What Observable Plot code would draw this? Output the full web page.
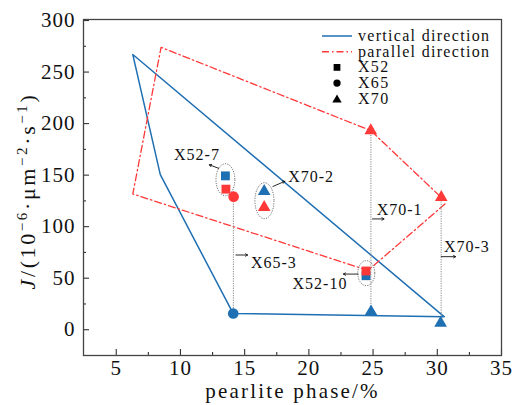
<!DOCTYPE html>
<html>
<head>
<meta charset="utf-8">
<script src="https://cdn.jsdelivr.net/npm/d3@7"></script>
<script src="https://cdn.jsdelivr.net/npm/@observablehq/plot@0.6"></script>
<style>
  body { margin: 0; background: #fff; }
  #wrap { position: relative; width: 515px; height: 405px; }
</style>
</head>
<body>
<div id="wrap"></div>
<script>
// ---- data ----
const xTicks = [5, 10, 15, 20, 25, 30, 35];
const xMinorTicks = [7.5, 12.5, 17.5, 22.5, 27.5, 32.5];
const yTicks = [0, 50, 100, 150, 200, 250, 300];
const yMinorTicks = [25, 75, 125, 175, 225, 275];
const xLabel = "pearlite phase/%";

// vertical direction envelope (blue, solid)
const vertX = [6.29, 8.43, 14.1, 30.55, 6.29];
const vertY = [267, 150.5, 15.8, 12.5, 267];
// parallel direction envelope (red, dash-dot)
const paraX = [30.6, 24.6, 6.29, 8.49, 24.82, 30.31];
const paraY = [122, 57.5, 131.7, 274, 193.2, 128.4];

// sample points
const ptGrade = ["X52", "X52", "X52", "X52", "X65", "X65", "X70", "X70", "X70", "X70", "X70", "X70"];
const ptDir   = ["vertical", "vertical", "parallel", "parallel", "vertical", "parallel", "vertical", "parallel", "vertical", "parallel", "vertical", "parallel"];
const ptX     = [13.5, 24.45, 13.54, 24.45, 14.11, 14.14, 16.52, 16.52, 24.84, 24.82, 30.26, 30.31];
const ptY     = [149.3, 52.4, 136.4, 57, 15.8, 129.1, 134.3, 118.7, 17.5, 193.2, 6.4, 128.4];

// dotted guide lines
const guideX  = [14.12, 24.83, 30.3];
const guideY1 = [15.8, 17.5, 6.4];
const guideY2 = [129.1, 193.2, 128.4];

// ellipses around sample groups
const ellX = [13.5, 16.54, 24.47];
const ellY = [145.6, 125.2, 54.9];

// annotation labels and arrows
const annText = ["X52-7", "X70-2", "X70-1", "X70-3", "X65-3", "X52-10"];
const annX    = [9.5, 18.39, 25.28, 30.52, 15.49, 18.73];
const annY    = [170, 148.5, 116, 80.6, 65.3, 44.4];
const arrX1   = [12.98, 17.2, 24.95, 30.31, 14.32, 23.83];
const arrY1   = [156.6, 139, 107.5, 70.9, 72.5, 54];
const arrX2   = [12.25, 18.13, 25.85, 31.43, 15.23, 22.69];
const arrY2   = [160, 144, 107.5, 70.9, 72.5, 54];

// ---- styles ----
const BLUE = "#1f6fb3";
const RED = "#ff3838";
const dirColor = {vertical: BLUE, parallel: RED};
const FONT = "Liberation Serif";

const points = ptX.map((x, i) => ({x, y: ptY[i], grade: ptGrade[i], dir: ptDir[i]}));
const vertLine = vertX.map((x, i) => ({x, y: vertY[i]}));
const paraLine = paraX.map((x, i) => ({x, y: paraY[i]}));
const guides = guideX.map((x, i) => ({x, y1: guideY1[i], y2: guideY2[i]}));
const ells = ellX.map((x, i) => ({x, y: ellY[i]}));
const anns = annText.map((t, i) => ({t, x: annX[i], y: annY[i]}));
const arrows = arrX1.map((x1, i) => ({x1, y1: arrY1[i], x2: arrX2[i], y2: arrY2[i]}));

function ellipseSymbol(ratio) {
  return {
    draw(ctx, size) {
      const ry = Math.sqrt(size / Math.PI), rx = ry * ratio, k = 0.5523;
      ctx.moveTo(rx, 0);
      ctx.bezierCurveTo(rx, k * ry, k * rx, ry, 0, ry);
      ctx.bezierCurveTo(-k * rx, ry, -rx, k * ry, -rx, 0);
      ctx.bezierCurveTo(-rx, -k * ry, -k * rx, -ry, 0, -ry);
      ctx.bezierCurveTo(k * rx, -ry, rx, -k * ry, rx, 0);
      ctx.closePath();
    }
  };
}

const W = 515, H = 405, mL = 83, mR = 14, mT = 19, mB = 50;
const innerW = W - mL - mR, innerH = H - mT - mB;

const chart = Plot.plot({
  width: W, height: H,
  marginLeft: mL, marginRight: mR, marginTop: mT, marginBottom: mB,
  x: {domain: [2.45, 35], axis: null},
  y: {domain: [-25, 301], axis: null},
  color: {type: "identity"},
  style: {background: "white", color: "#111", overflow: "visible"},
  marks: [
    Plot.line(vertLine, {x: "x", y: "y", stroke: BLUE, strokeWidth: 1.5}),
    Plot.line(paraLine, {x: "x", y: "y", stroke: RED, strokeWidth: 1.3, strokeDasharray: "7,3,1.5,3"}),
    Plot.ruleX(guides, {x: "x", y1: "y1", y2: "y2", stroke: "#888", strokeWidth: 1, strokeDasharray: "1.2,1.2"}),
    Plot.dot([ells[0]], {x: "x", y: "y", r: 16, symbol: ellipseSymbol(0.59), stroke: "#777", strokeWidth: 1, strokeDasharray: "1.2,1.2", fill: "none"}),
    Plot.dot([ells[1]], {x: "x", y: "y", r: 18, symbol: ellipseSymbol(0.53), stroke: "#777", strokeWidth: 1, strokeDasharray: "1.2,1.2", fill: "none"}),
    Plot.dot([ells[2]], {x: "x", y: "y", r: 12.5, symbol: ellipseSymbol(0.68), stroke: "#777", strokeWidth: 1, strokeDasharray: "1.2,1.2", fill: "none"}),
    Plot.dot(points.filter(d => d.grade === "X52"), {x: "x", y: "y", symbol: "square", r: 5, fill: d => dirColor[d.dir]}),
    Plot.dot(points.filter(d => d.grade === "X65"), {x: "x", y: "y", symbol: "circle", r: 5.3, fill: d => dirColor[d.dir]}),
    Plot.dot(points.filter(d => d.grade === "X70"), {x: "x", y: "y", symbol: "triangle", r: 4.7, fill: d => dirColor[d.dir]}),
    Plot.arrow(arrows, {x1: "x1", y1: "y1", x2: "x2", y2: "y2", stroke: "#111", strokeWidth: 0.9, headLength: 4, headAngle: 60}),
    Plot.text(anns, {x: "x", y: "y", text: "t", textAnchor: "start", fontSize: 16, fontFamily: FONT, fill: "#111"}),
    // ticks (inward)
    Plot.tickX(xTicks, {x: d => d, insetTop: innerH - 6, stroke: "#333", strokeWidth: 1.1}),
    Plot.tickX(xMinorTicks, {x: d => d, insetTop: innerH - 3, stroke: "#333", strokeWidth: 1.1}),
    Plot.tickY(yTicks, {y: d => d, insetRight: innerW - 6, stroke: "#333", strokeWidth: 1.1}),
    Plot.tickY(yMinorTicks, {y: d => d, insetRight: innerW - 3, stroke: "#333", strokeWidth: 1.1}),
    Plot.text(xTicks, {x: d => d, frameAnchor: "bottom", dy: 19, text: d => String(d), fontSize: 21, fontFamily: FONT, fill: "#111"}),
    Plot.text(yTicks, {y: d => d, frameAnchor: "left", textAnchor: "end", dx: -8, text: d => String(d), fontSize: 21, fontFamily: FONT, fill: "#111"}),
    Plot.text([xLabel], {frameAnchor: "bottom", dy: 42, text: d => d, fontSize: 21, fontFamily: FONT, fill: "#111"}),
    Plot.frame({stroke: "#444", strokeWidth: 1.3})
  ]
});

const wrap = document.getElementById("wrap");
wrap.appendChild(chart);
const svg = d3.select(chart);

// letter spacing per text mark group (document order: annotations, x ticks, y ticks, x label)
const spacing = ["1px", "1px", "1px", "2.2px"];
svg.selectAll('g[aria-label="text"]').each(function(d, i) {
  d3.select(this).style("letter-spacing", spacing[i] || "1px").style("font-family", FONT);
});

// y-axis label with italic J and superscripts
const yl = svg.append("text")
  .attr("transform", "translate(35,191) rotate(-90)")
  .attr("text-anchor", "middle")
  .attr("font-size", 22)
  .attr("fill", "#111")
  .style("font-family", FONT)
  .style("letter-spacing", "2.6px");
const parts = [
  {t: "J", italic: true}, {t: "/(10"}, {t: "−6", sup: true}, {t: "·μm"},
  {t: "−2", sup: true}, {t: "·s"}, {t: "−1", sup: true}, {t: ")"}
];
let raised = false;
for (const p of parts) {
  const ts = yl.append("tspan").text(p.t);
  if (p.italic) ts.attr("font-style", "italic");
  if (p.sup && !raised) { ts.attr("dy", -8).attr("font-size", 15); raised = true; }
  else if (p.sup) { ts.attr("font-size", 15); }
  else if (!p.sup && raised) { ts.attr("dy", 8); raised = false; }
}

// legend
const legendItems = [
  {label: "vertical direction", kind: "line", color: BLUE, dash: null},
  {label: "parallel direction", kind: "line", color: RED, dash: "7,3,1.5,3"},
  {label: "X52", kind: "square"},
  {label: "X65", kind: "circle"},
  {label: "X70", kind: "triangle"}
];
const lg = svg.append("g").attr("id", "legend").attr("font-size", 16).attr("fill", "#111")
  .attr("text-anchor", "start").style("font-family", FONT).style("letter-spacing", "1.3px");
legendItems.forEach((d, i) => {
  const yc = 36 + i * 15.7;
  const g = lg.append("g").attr("transform", `translate(0,${yc})`);
  if (d.kind === "line") {
    g.append("line").attr("x1", 322).attr("x2", 352).attr("y1", 0).attr("y2", 0)
      .attr("stroke", d.color).attr("stroke-width", 1.5).attr("stroke-dasharray", d.dash);
  } else {
    const sym = {square: d3.symbolSquare, circle: d3.symbolCircle, triangle: d3.symbolTriangle}[d.kind];
    const size = {square: 46, circle: 42, triangle: 38}[d.kind];
    g.append("path").attr("d", d3.symbol(sym, size)()).attr("transform", `translate(337,${d.kind === "triangle" ? 1 : 0})`).attr("fill", "#000");
  }
  g.append("text").attr("x", 358).attr("y", 5).attr("text-anchor", "start").text(d.label);
});
</script>
</body>
</html>
